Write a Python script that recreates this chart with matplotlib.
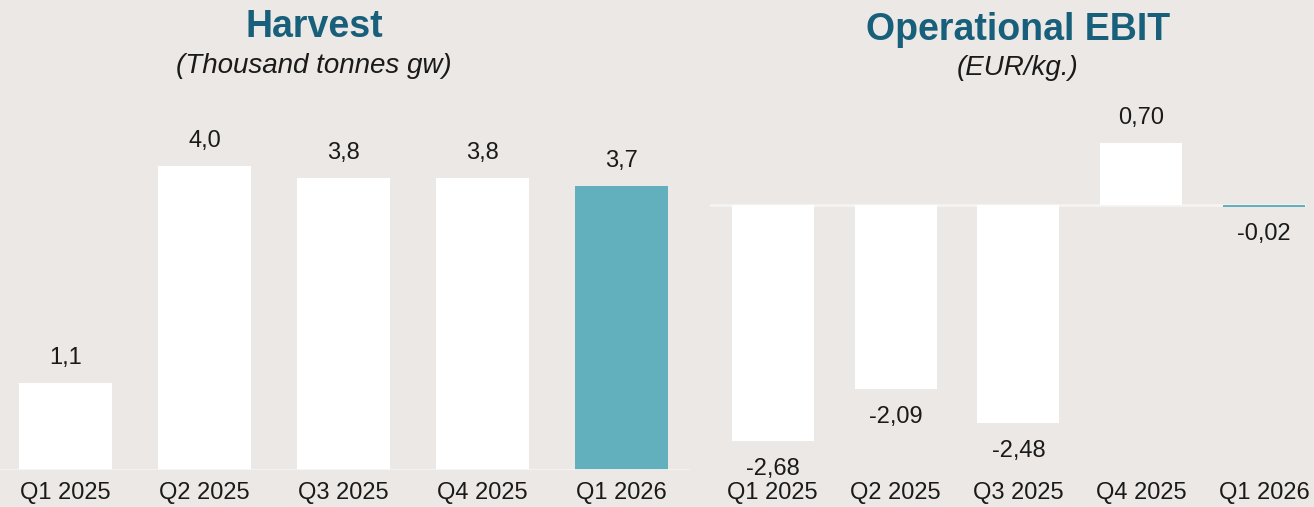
import matplotlib
matplotlib.use('Agg')
from matplotlib import pyplot as plt

quarters = ['Q1 2025', 'Q2 2025', 'Q3 2025', 'Q4 2025', 'Q1 2026']
harvest = [1.14, 4.0, 3.84, 3.84, 3.74]
ebit = [-2.68, -2.09, -2.48, 0.70, -0.02]

bg = '#ece8e5'
teal = '#62afbd'
title_col = '#175f7a'
txt = '#1a1a1a'
colors = ['white', 'white', 'white', 'white', teal]

plt.rcParams['font.family'] = ['Liberation Sans', 'DejaVu Sans']

W, H = 1314, 507
fig = plt.figure(figsize=(W / 100, H / 100), dpi=100, facecolor=bg)

# left panel: harvest
ax1 = fig.add_axes([0, 37 / H, 690 / W, 370 / H])
ax1.set_facecolor(bg)
x = range(len(quarters))
ax1.bar(x, harvest, width=0.67, color=colors, zorder=2)
ax1.set_xlim(-0.47, 4.49)
ax1.set_ylim(0, 4.87)
ax1.axhline(0, color='#f6f4f2', lw=2, zorder=3)
for i, v in enumerate(harvest):
    ax1.annotate(f'{v:.1f}'.replace('.', ','), (i, v), xytext=(0, 10),
                 textcoords='offset points', ha='center', va='bottom',
                 fontsize=17, color=txt)
ax1.set_xticks(list(x))
ax1.set_xticklabels(quarters, fontsize=17, color=txt)
ax1.tick_params(axis='x', length=0, pad=9)
ax1.set_yticks([])
for s in ax1.spines.values():
    s.set_visible(False)

# right panel: operational EBIT
ax2 = fig.add_axes([710 / W, 37 / H, 596 / W, 370 / H])
ax2.set_facecolor(bg)
ax2.bar(x, ebit, width=0.667, color=colors, zorder=2)
ax2.set_xlim(-0.51, 4.34)
ax2.set_ylim(-3.01, 1.19)
ax2.axhline(0, color='#f6f4f2', lw=2, zorder=1)
for i, v in enumerate(ebit):
    off = 10 if v > 0 else -12
    ax2.annotate(f'{v:.2f}'.replace('.', ','), (i, v), xytext=(0, off),
                 textcoords='offset points', ha='center',
                 va='bottom' if v > 0 else 'top', fontsize=17, color=txt)
ax2.set_xticks(list(x))
ax2.set_xticklabels(quarters, fontsize=17, color=txt)
ax2.tick_params(axis='x', length=0, pad=9)
ax2.set_yticks([])
for s in ax2.spines.values():
    s.set_visible(False)

# titles
fig.text(314 / W, 1 - 27 / H, 'Harvest', ha='center', va='center',
         fontsize=27, fontweight='bold', color=title_col)
fig.text(314 / W, 1 - 66 / H, '(Thousand tonnes gw)', ha='center', va='center',
         fontsize=20, style='italic', color=txt)
fig.text(1018 / W, 1 - 30 / H, 'Operational EBIT', ha='center', va='center',
         fontsize=27, fontweight='bold', color=title_col)
fig.text(1018 / W, 1 - 68 / H, '(EUR/kg.)', ha='center', va='center',
         fontsize=20, style='italic', color=txt)

fig.savefig('out.png', dpi=100, facecolor=bg)
